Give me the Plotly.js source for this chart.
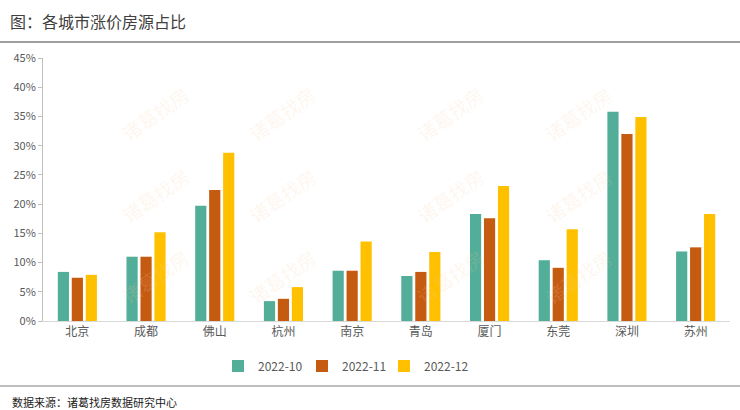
<!DOCTYPE html>
<html>
<head>
<meta charset="utf-8">
<script src="https://cdn.plot.ly/plotly-3.0.1.min.js"></script>
<style>html,body{margin:0;padding:0;background:#fff;}#chart{width:740px;height:410px;}</style>
</head>
<body>
<div id="chart"></div>
<script>
const cities = ["北京","成都","佛山","杭州","南京","青岛","厦门","东莞","深圳","苏州"];
const seriesNames = ["2022-10","2022-11","2022-12"];
const s2022_10 = [8.4, 11.0, 19.7, 3.4, 8.6, 7.7, 18.3, 10.4, 35.8, 11.9];
const s2022_11 = [7.4, 11.0, 22.4, 3.8, 8.6, 8.4, 17.6, 9.1, 32.0, 12.6];
const s2022_12 = [7.9, 15.2, 28.8, 5.8, 13.6, 11.8, 23.1, 15.7, 34.9, 18.3];
const yTicks = [0,5,10,15,20,25,30,35,40,45];

const colors = ["#52ae98", "#c55a11", "#ffc000"];
const font = "Noto Sans CJK SC, sans-serif";
const allSeries = [s2022_10, s2022_11, s2022_12];
const legendIds = ["legend", "legend2", "legend3"];

const traces = allSeries.map((vals, i) => ({
  type: "bar",
  x: cities,
  y: vals,
  name: seriesNames[i],
  legend: legendIds[i],
  marker: {color: colors[i]},
  hoverinfo: "x+y+name"
}));

const W = 740, H = 410, L = 43, R = 10, T = 58, B = 89;
const pw = W - L - R, ph = H - T - B;
const px = x => (x - L) / pw;
const py = y => (H - B - y) / ph;

const wmX = [113, 282, 450, 620];
const wmY = [78, 195, 312];
const annotations = [];
wmY.forEach(yy => wmX.forEach(xx => annotations.push({
  text: "诸葛找房", xref: "paper", yref: "paper", x: px(xx), y: py(yy),
  showarrow: false, textangle: -35,
  font: {family: font, size: 19, color: "rgba(250,205,160,0.18)"}
})));
annotations.push({
  text: "数据来源：诸葛找房数据研究中心", xref: "paper", yref: "paper",
  x: px(10), y: py(402), xanchor: "left", yanchor: "middle", showarrow: false,
  font: {family: font, size: 11, color: "#222222"}
});

const legendBase = (xpix) => ({
  orientation: "h", x: px(xpix), xanchor: "left", y: py(366), yanchor: "middle",
  font: {family: font, size: 12, color: "#595959"}, itemwidth: 30,
  bgcolor: "rgba(0,0,0,0)"
});

const layout = {
  width: W, height: H,
  margin: {l: L, r: R, t: T, b: B, pad: 0},
  paper_bgcolor: "#ffffff", plot_bgcolor: "#ffffff",
  font: {family: font, color: "#595959"},
  title: {
    text: "图：各城市涨价房源占比", xref: "container", yref: "container",
    x: 10 / W, xanchor: "left", y: 1 - 22 / H, yanchor: "middle",
    font: {family: font, size: 16, color: "#404040"}
  },
  barmode: "group", bargap: 0.39, bargroupgap: 0.2,
  xaxis: {
    showgrid: false, showline: true, linecolor: "#d9d9d9", linewidth: 1,
    ticks: "", tickfont: {family: font, size: 12, color: "#595959"},
    fixedrange: true
  },
  yaxis: {
    range: [0, 45], tickvals: yTicks, ticktext: yTicks.map(v => v + "%"),
    showgrid: false, zeroline: false, showline: true, linecolor: "#bfbfbf", linewidth: 1,
    ticks: "outside", ticklen: 4, tickcolor: "#bfbfbf",
    tickfont: {family: font, size: 11, color: "#595959"}, fixedrange: true
  },
  legend: legendBase(218),
  legend2: legendBase(302),
  legend3: legendBase(384),
  showlegend: true,
  shapes: [
    {type: "line", xref: "paper", yref: "paper", x0: px(0), x1: px(740), y0: py(42), y1: py(42),
     line: {color: "#7f7f7f", width: 1.5}},
    {type: "line", xref: "paper", yref: "paper", x0: px(0), x1: px(740), y0: py(386), y1: py(386),
     line: {color: "#7f7f7f", width: 1.2}}
  ],
  annotations: annotations
};

Plotly.newPlot("chart", traces, layout, {displayModeBar: false, staticPlot: true});
</script>
</body>
</html>
